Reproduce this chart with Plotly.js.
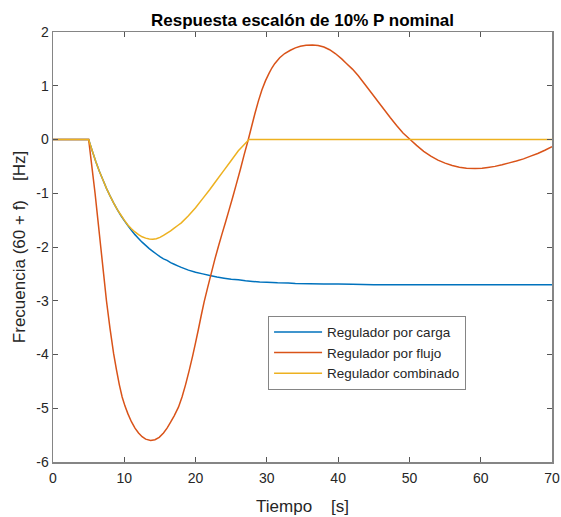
<!DOCTYPE html>
<html>
<head>
<meta charset="utf-8">
<script src="https://cdn.plot.ly/plotly-3.0.1.min.js"></script>
<style>html,body{margin:0;padding:0;background:#fff}#chart{width:561px;height:517px}</style>
</head>
<body>
<div id="chart"></div>
<script>
// Regulador por carga (blue)
var tCarga = [0, 5, 5.5, 6, 6.5, 7, 7.5, 8, 8.5, 9, 9.5, 10, 10.5, 11, 11.5, 12, 12.5, 13, 13.5, 14, 14.5, 15, 15.5, 16, 16.5, 17, 17.5, 18, 19, 20, 21, 22, 23, 24, 25, 26, 27, 28, 29, 30, 31.5, 33, 34, 36, 38, 40, 42, 45, 50, 60, 70];
var yCarga = [0, 0, -0.21, -0.41, -0.59, -0.75, -0.91, -1.05, -1.18, -1.30, -1.41, -1.51, -1.60, -1.69, -1.77, -1.84, -1.91, -1.97, -2.03, -2.08, -2.13, -2.18, -2.22, -2.25, -2.29, -2.32, -2.35, -2.38, -2.43, -2.47, -2.50, -2.53, -2.56, -2.58, -2.60, -2.61, -2.63, -2.64, -2.65, -2.655, -2.665, -2.67, -2.677, -2.683, -2.688, -2.69, -2.695, -2.70, -2.70, -2.70, -2.70];

// Regulador por flujo (red)
var tFlujo = [0, 5, 5.45, 5.9, 6.3, 6.7, 7.1, 7.5, 8.0, 8.5, 8.9, 9.3, 9.7, 10.1, 10.5, 11, 11.5, 12, 12.5, 13, 13.7, 14.3, 14.9, 15.5, 16, 16.5, 17, 17.6, 18.1, 18.6, 19.1, 19.6, 20.0, 20.4, 20.8, 21.2, 21.7, 22.2, 22.7, 23.2, 23.7, 24.2, 24.7, 25.2, 25.7, 26.3, 26.8, 27.4, 27.8, 28.3, 28.8, 29.3, 29.8, 30.3, 30.7, 31.1, 31.8, 32.5, 33.3, 34, 34.7, 35.5, 36.4, 37.2, 38, 38.8, 39.6, 40.5, 41.2, 42, 42.8, 43.5, 44.2, 45, 45.8, 46.5, 47.3, 48.2, 49.1, 50.1, 51, 52, 53, 54, 55, 56, 57, 58, 59.2, 60.2, 61, 62, 63, 64, 65, 66, 67, 68, 69, 70];
var yFlujo = [0, 0, -0.5, -1.0, -1.5, -2.0, -2.5, -3.0, -3.52, -3.98, -4.28, -4.56, -4.79, -4.96, -5.1, -5.25, -5.37, -5.46, -5.53, -5.575, -5.6, -5.585, -5.54, -5.46, -5.37, -5.26, -5.14, -4.98, -4.79, -4.56, -4.3, -4.02, -3.78, -3.53, -3.27, -3.02, -2.75, -2.49, -2.23, -1.99, -1.76, -1.54, -1.31, -1.08, -0.84, -0.55, -0.29, 0, 0.21, 0.47, 0.71, 0.92, 1.09, 1.23, 1.33, 1.41, 1.52, 1.6, 1.66, 1.705, 1.735, 1.755, 1.76, 1.75, 1.72, 1.67, 1.6, 1.5, 1.41, 1.31, 1.19, 1.07, 0.95, 0.81, 0.67, 0.55, 0.41, 0.26, 0.12, 0, -0.11, -0.22, -0.31, -0.385, -0.44, -0.485, -0.515, -0.535, -0.54, -0.535, -0.52, -0.5, -0.47, -0.435, -0.4, -0.36, -0.31, -0.26, -0.2, -0.135];

// Regulador combinado (yellow)
var tComb = [0, 5, 5.5, 6, 6.5, 7, 7.5, 8, 8.5, 9, 9.5, 10, 10.5, 11, 11.5, 12, 12.5, 13, 13.5, 14, 14.5, 15, 15.5, 16, 16.5, 17, 17.5, 18, 19, 20, 21, 22, 23, 24, 25, 26, 26.5, 27, 27.5, 70];
var yComb = [0, 0, -0.21, -0.41, -0.59, -0.75, -0.91, -1.05, -1.18, -1.30, -1.40, -1.50, -1.59, -1.66, -1.72, -1.77, -1.81, -1.835, -1.85, -1.855, -1.845, -1.82, -1.785, -1.74, -1.70, -1.65, -1.60, -1.55, -1.42, -1.27, -1.10, -0.93, -0.75, -0.57, -0.39, -0.21, -0.14, -0.07, 0, 0];

var xTicks = [0, 10, 20, 30, 40, 50, 60, 70];
var yTicks = [-6, -5, -4, -3, -2, -1, 0, 1, 2];

var names = ['Regulador por carga', 'Regulador por flujo', 'Regulador combinado'];
var colors = ['#0072BD', '#D95319', '#EDB120'];

var traces = [
  {x: tCarga, y: yCarga, name: names[0]},
  {x: tFlujo, y: yFlujo, name: names[1]},
  {x: tComb, y: yComb, name: names[2]}
].map(function (tr, i) {
  tr.type = 'scatter';
  tr.mode = 'lines';
  tr.line = {color: colors[i], width: 1.5, simplify: false};
  return tr;
});

var FONT = 'Liberation Sans, Arial, sans-serif';
var axisCommon = {
  showline: true, linecolor: '#858585', linewidth: 1.5, mirror: 'ticks',
  ticks: 'inside', ticklen: 5, tickwidth: 1, tickcolor: '#555',
  showgrid: false, zeroline: false,
  tickfont: {family: FONT, size: 14, color: '#262626'}
};

var layout = {
  width: 561, height: 517,
  paper_bgcolor: '#fff', plot_bgcolor: '#fff',
  margin: {l: 53, r: 9, t: 32, b: 55},
  title: {text: '<b>Respuesta escalón de 10% P nominal</b>', xref: 'paper', x: 0.5, xanchor: 'center',
    yref: 'container', y: 0.962, yanchor: 'middle',
    font: {family: FONT, size: 17, color: '#000'}},
  xaxis: Object.assign({}, axisCommon, {
    range: [0, 70], tickvals: xTicks, ticktext: xTicks.map(String), ticklabelstandoff: 3,
    title: {text: 'Tiempo\u00a0\u00a0\u00a0\u00a0[s]', standoff: 15, font: {family: FONT, size: 17, color: '#262626'}}
  }),
  yaxis: Object.assign({}, axisCommon, {
    range: [-6, 2], tickvals: yTicks, ticktext: yTicks.map(String),
    title: {text: 'Frecuencia (60 + f)\u00a0\u00a0\u00a0\u00a0[Hz]', standoff: 6, font: {family: FONT, size: 17, color: '#262626'}}
  }),
  showlegend: true,
  legend: {
    x: 0.431, y: 0.34, xanchor: 'left', yanchor: 'top',
    bgcolor: '#fff', bordercolor: '#858585', borderwidth: 1,
    font: {family: FONT, size: 13.5, color: '#262626'},
    itemwidth: 48, tracegroupgap: 0
  }
};

Plotly.newPlot('chart', traces, layout, {displayModeBar: false, staticPlot: true});
</script>
</body>
</html>
